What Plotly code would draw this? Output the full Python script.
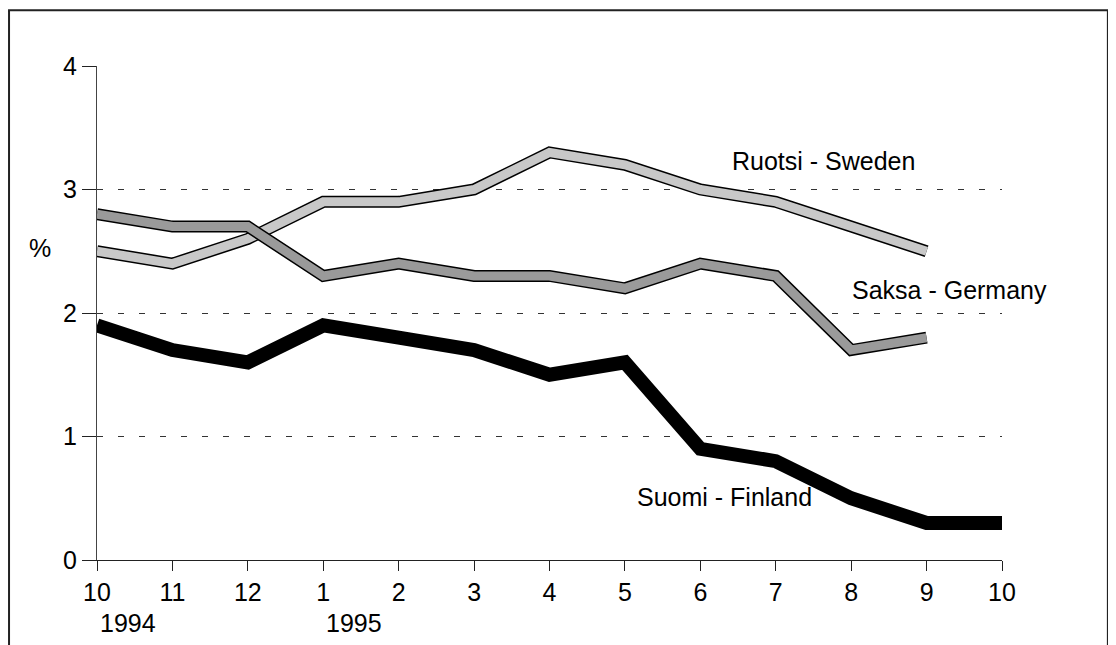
import plotly.graph_objects as go

months = ["10", "11", "12", "1", "2", "3", "4", "5", "6", "7", "8", "9", "10"]
years = {0: "1994", 3: "1995"}
sweden = [2.5, 2.4, 2.6, 2.9, 2.9, 3.0, 3.3, 3.2, 3.0, 2.9, 2.7, 2.5]
germany = [2.8, 2.7, 2.7, 2.3, 2.4, 2.3, 2.3, 2.2, 2.4, 2.3, 1.7, 1.8]
finland = [1.9, 1.7, 1.6, 1.9, 1.8, 1.7, 1.5, 1.6, 0.9, 0.8, 0.5, 0.3, 0.3]

FONT = "Liberation Sans"
FS = 25
fig = go.Figure()

def band(vals, inner, width):
    xs = list(range(len(vals)))
    fig.add_trace(go.Scatter(x=xs, y=vals, mode="lines",
                             line=dict(color="black", width=width), hoverinfo="skip"))
    fig.add_trace(go.Scatter(x=xs, y=vals, mode="lines",
                             line=dict(color=inner, width=width - 3), hoverinfo="skip"))

band(sweden, "#c8c8c8", 12)
band(germany, "#9a9a9a", 12)
fig.add_trace(go.Scatter(x=list(range(len(finland))), y=finland, mode="lines",
                         line=dict(color="black", width=14), hoverinfo="skip"))

fig.update_layout(
    width=1108, height=637,
    margin=dict(l=89, r=114, t=58, b=85),
    paper_bgcolor="white", plot_bgcolor="white",
    showlegend=False,
    font=dict(family=FONT, size=FS, color="black"),
    xaxis=dict(range=[0, 12], tickmode="array", tickvals=list(range(13)), ticktext=months,
               showgrid=False, zeroline=False, showline=True, linecolor="#222", linewidth=1,
               ticks="outside", ticklen=10, tickcolor="#222", tickfont=dict(size=FS, family=FONT)),
    yaxis=dict(range=[0, 4], tickmode="array", tickvals=[0, 1, 2, 3, 4],
               showgrid=True, gridcolor="#333", gridwidth=1, griddash="6px,15px",
               zeroline=False, showline=True, linecolor="#444", linewidth=1,
               ticks="outside", ticklen=14, tickcolor="#222", tickfont=dict(size=FS, family=FONT)),
)

for xi, yr in years.items():
    fig.add_annotation(x=xi, y=-0.095, xref="x", yref="paper", text=yr, showarrow=False,
                       xanchor="left", yanchor="top", xshift=1, font=dict(size=FS, family=FONT))

fig.add_annotation(x=0, y=2.53, xref="x", yref="y", text="%", showarrow=False,
                   xanchor="center", xshift=-57, font=dict(size=FS, family=FONT))

labels = [("Ruotsi - Sweden", 8.39, 3.23), ("Saksa - Germany", 9.99, 2.19), ("Suomi - Finland", 7.14, 0.51)]
for t, lx, ly in labels:
    fig.add_annotation(x=lx, y=ly, text=t, showarrow=False, xanchor="left", yanchor="middle",
                       font=dict(size=FS, family=FONT))

fig.add_shape(type="rect", xref="paper", yref="paper", x0=-0.0972, x1=1.117, y0=-0.2, y1=1.113,
              line=dict(color="#222", width=2), fillcolor="rgba(0,0,0,0)", layer="below")

fig.write_html("out.html")
